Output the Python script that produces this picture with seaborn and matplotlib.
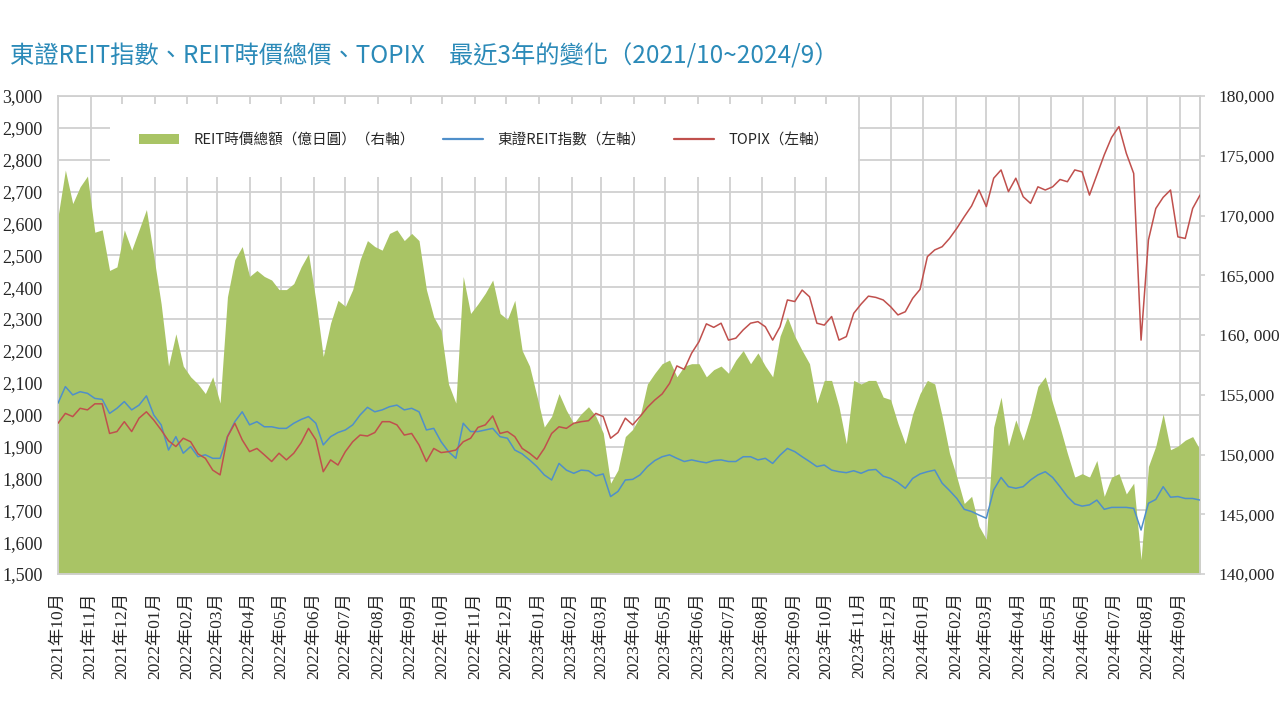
import numpy as np
import pandas as pd
import matplotlib
matplotlib.use("Agg")
import matplotlib.pyplot as plt
import matplotlib.dates as mdates
from matplotlib.ticker import StrMethodFormatter
import seaborn as sns

# 週資料（約每週一筆，2021/10 ~ 2024/9），數值由圖上讀取
# REIT時價總額（億日圓），右軸
reit_cap = [
    169900, 173800, 171000, 172400, 173300, 168600, 168800, 165400, 165700, 168800, 167100, 168800, 170500,
    166600, 162600, 157400, 160100, 157400, 156500, 155900, 155100, 156500, 154300,
    163200, 166300, 167400, 164900, 165400, 164900, 164600, 163800, 163800, 164300, 165700, 166800,
    162900, 158200, 161000, 162900, 162400, 163800, 166300, 167900, 167400, 167100, 168500, 168800, 167900, 168500, 167900,
    163800, 161500, 160400, 155900, 154300, 164900, 161800, 162600, 163500, 164600, 161800, 161300, 162900,
    158700, 157400, 154900, 152300, 153200, 155100, 153700, 152600, 153400, 154000, 153200, 151800, 147600, 148700, 151500, 152100, 153200,
    155900, 156800, 157600, 157900, 156500, 157400, 157600, 157600, 156500, 157100, 157400, 156800, 157900, 158700, 157600,
    158500, 157400, 156500, 159900, 161500, 159900, 158700, 157600, 154300, 156200, 156200, 154000, 150900, 156200,
    155900, 156200, 156200, 154800, 154600, 152600, 150900, 153400, 155100, 156200, 155900, 153200, 150100, 148100, 145900, 146500, 144000, 142900,
    152300, 154800, 150700, 152900, 151200, 153200, 155700, 156500, 154300, 152300, 150100, 148100, 148400, 148100, 149500,
    146500, 148100, 148400, 146700, 147600, 141200, 149000, 150700, 153400, 150400, 150700, 151200, 151500, 150400,
]

# 東證REIT指數，左軸
reit_index = [
    2036, 2088, 2062, 2072, 2067, 2051, 2048, 2004, 2020, 2041, 2015, 2030, 2059,
    1999, 1968, 1889, 1931, 1879, 1900, 1868, 1874, 1863, 1863,
    1931, 1978, 2009, 1968, 1978, 1962, 1962, 1957, 1957, 1973, 1985, 1994,
    1973, 1905, 1931, 1944, 1952, 1968, 1999, 2023, 2009, 2015, 2025, 2030, 2015, 2020, 2009,
    1952, 1957, 1915, 1884, 1863, 1973, 1947, 1947, 1952, 1957, 1931, 1926, 1889,
    1877, 1858, 1837, 1811, 1795, 1847, 1826, 1816, 1826, 1824, 1808, 1814, 1743, 1759, 1795, 1797, 1811,
    1837, 1856, 1868, 1874, 1863, 1853, 1858, 1853, 1849, 1856, 1858, 1853, 1853, 1868, 1868,
    1858, 1863, 1847, 1873, 1894, 1884, 1868, 1853, 1837, 1842, 1826, 1821, 1818, 1824,
    1816, 1826, 1828, 1807, 1800, 1787, 1769, 1800, 1814, 1821, 1826, 1785, 1762, 1737, 1703, 1696, 1685, 1675,
    1764, 1803, 1774, 1769, 1774, 1795, 1811, 1821, 1803, 1774, 1743, 1720, 1713, 1717, 1732,
    1703, 1709, 1709, 1709, 1706, 1638, 1722, 1734, 1774, 1741, 1743, 1737, 1737, 1732,
]

# TOPIX，左軸
topix = [
    1973, 2004, 1994, 2020, 2015, 2034, 2034, 1941, 1947, 1978, 1947, 1989, 2009,
    1983, 1952, 1918, 1900, 1926, 1915, 1877, 1863, 1826, 1811,
    1931, 1973, 1921, 1884, 1894, 1874, 1853, 1879, 1858, 1879, 1912, 1957,
    1921, 1821, 1858, 1842, 1884, 1915, 1936, 1933, 1944, 1978, 1978, 1968, 1936, 1941, 1905,
    1853, 1894, 1881, 1884, 1889, 1915, 1926, 1960, 1968, 1996, 1941, 1947, 1931,
    1894, 1879, 1860, 1894, 1941, 1962, 1957, 1973, 1978, 1981, 2004, 1994, 1926, 1944, 1989, 1968, 1994,
    2023, 2046, 2065, 2098, 2153, 2142, 2193, 2229, 2285, 2274, 2287, 2234, 2240, 2266, 2287,
    2292, 2276, 2234, 2276, 2360, 2355, 2391, 2370, 2287, 2281, 2308, 2234, 2245, 2318,
    2347, 2372, 2368, 2360, 2339, 2313, 2323, 2365, 2393, 2496, 2517, 2527, 2553, 2585, 2621, 2655, 2705, 2653,
    2742, 2768, 2700, 2742, 2684, 2663, 2715, 2705, 2715, 2738, 2731, 2768, 2762, 2689, 2752,
    2815, 2870, 2904, 2820, 2757, 2234, 2548, 2647, 2682, 2705, 2558, 2553, 2647, 2689,
]

right_ticks = [140000, 145000, 150000, 155000, 160000, 165000, 170000, 175000, 180000]
right_labels = ["140,000", "145,000", "150,000", "155,000", "160, 000", "165,000", "170,000", "175,000", "180,000"]

TITLE = "東證REIT指數、REIT時價總價、TOPIX　最近3年的變化（2021/10~2024/9）"
LBL_CAP = "REIT時價總額（億日圓）（右軸）"
LBL_REIT = "東證REIT指數（左軸）"
LBL_TOPIX = "TOPIX（左軸）"

# 顏色
GREEN = "#a9c465"
BLUE = "#4f8fca"
RED = "#c0504d"
GRID = "#d0d0d0"
TITLE_C = "#2b8ab8"

CJK = ["Noto Sans CJK TC", "DejaVu Sans"]

dates = pd.date_range("2021-10-01", periods=len(reit_cap), freq="7D")
df = pd.DataFrame({"date": dates, "cap": reit_cap, "reit": reit_index, "topix": topix})


# 左軸 <-> 右軸 換算
def to_right(v):
    return 140000 + (np.asarray(v) - 1500) * 40000 / 1500


def to_left(v):
    return 1500 + (np.asarray(v) - 140000) * 1500 / 40000


sns.set_style("white")
plt.rcParams["font.family"] = ["Liberation Serif", "Noto Sans CJK TC", "DejaVu Sans"]

fig = plt.figure(figsize=(12.8, 7.2), dpi=100)
ax = fig.add_axes([58 / 1280, 1 - 574 / 720, 1142 / 1280, 478 / 720])

area = ax.fill_between(df["date"], to_left(df["cap"]), 1500, color=GREEN, lw=0, zorder=1, label=LBL_CAP)
sns.lineplot(data=df, x="date", y="reit", color=BLUE, lw=1.1, ax=ax, zorder=3, label=LBL_REIT)
sns.lineplot(data=df, x="date", y="topix", color=RED, lw=1.1, ax=ax, zorder=3, label=LBL_TOPIX)

ax.set_xlim(dates[0], dates[-1])
ax.set_ylim(1500, 3000)
ax.set_yticks(np.arange(1500, 3001, 100))
ax.yaxis.set_major_formatter(StrMethodFormatter("{x:,.0f}"))
ax.xaxis.set_major_locator(mdates.MonthLocator())
ax.xaxis.set_major_formatter(mdates.DateFormatter("%Y年%m月"))
ax.set_xlabel("")
ax.set_ylabel("")

ax.grid(True, color=GRID, lw=1.3)
ax.set_axisbelow(True)
for s in ax.spines.values():
    s.set_color(GRID)
    s.set_linewidth(1.3)

ax.tick_params(axis="x", rotation=90, labelsize=12.5, length=5, width=1.2, color=GRID, pad=8)
ax.tick_params(axis="y", labelsize=13, length=4, width=1.2, color=GRID, pad=7)

sec = ax.secondary_yaxis("right", functions=(to_right, to_left))
sec.set_yticks(right_ticks, labels=right_labels)
sec.tick_params(labelsize=12.5, length=3.5, width=1.2, color=GRID, pad=10)
sec.spines["right"].set_color(GRID)
sec.spines["right"].set_linewidth(1.3)

handles = [area, ax.lines[0], ax.lines[1]]
leg = ax.legend(handles, [LBL_CAP, LBL_REIT, LBL_TOPIX],
                loc="upper left", bbox_to_anchor=(110 / 1280, 1 - 104 / 720),
                bbox_transform=fig.transFigure, ncol=3,
                prop={"family": CJK, "size": 10.5},
                frameon=True, facecolor="white", edgecolor="none", framealpha=1,
                fancybox=False, borderpad=2.0, handlelength=2.75, handleheight=0.7,
                handletextpad=1.0, columnspacing=1.9, borderaxespad=0)
leg.get_frame().set_linewidth(0)
for ln in leg.get_lines():
    ln.set_linewidth(1.6)

fig.text(10 / 1280, 1 - 57 / 720, TITLE, fontsize=17.5, color=TITLE_C, family=CJK, ha="left", va="center")

fig.savefig("out.png", dpi=100)
